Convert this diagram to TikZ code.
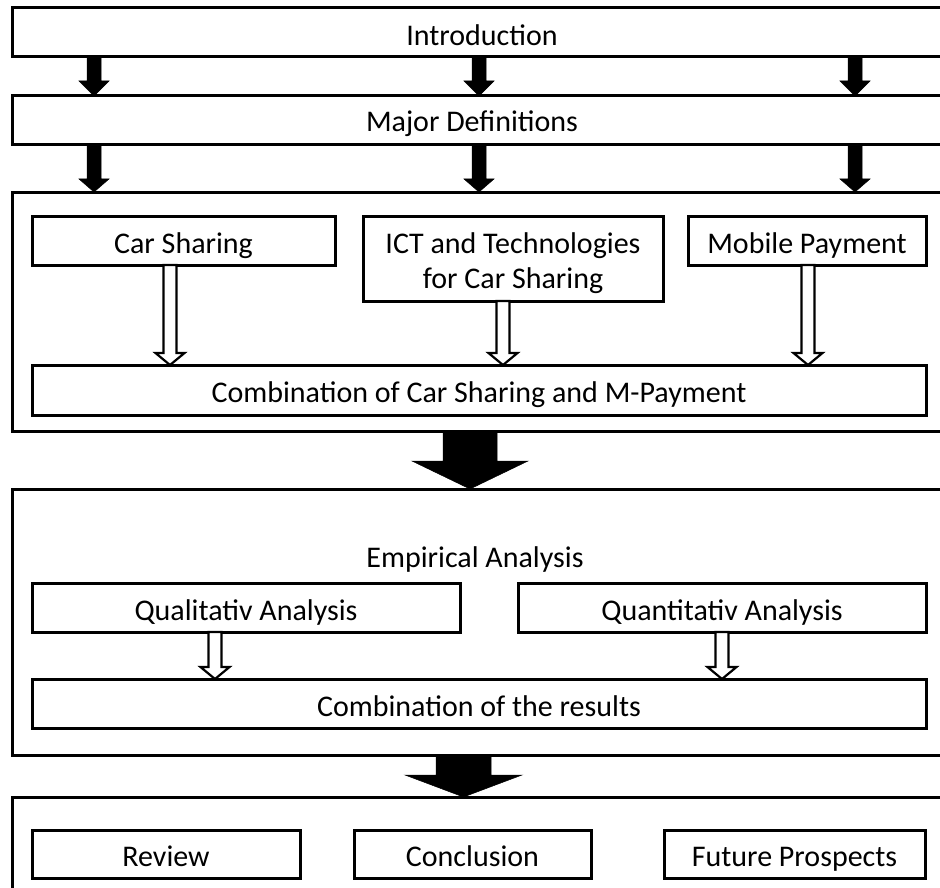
\documentclass[tikz,border=0pt]{standalone}
\usepackage{fontspec}
\setmainfont{Carlito}
\usetikzlibrary{calc}
\newcommand\blockarrow[7]{%
  \path[#1] let \p1=(#3.south), \p2=(#4.north) in
    (#2pt-#5pt,\y1) -- (#2pt-#5pt,\y2+#7pt) -- (#2pt-#6pt,\y2+#7pt) -- (#2pt,\y2)
    -- (#2pt+#6pt,\y2+#7pt) -- (#2pt+#5pt,\y2+#7pt) -- (#2pt+#5pt,\y1) -- cycle;}
\begin{document}
\begin{tikzpicture}[x=1pt,y=-1pt,
  box/.style={draw=black, line width=3pt, fill=white, inner sep=0pt, outer sep=0pt,
    font=\fontsize{30}{35}\selectfont, align=center},
  one/.style={text height=31pt, text depth=6pt},
  lbl/.style={inner sep=0pt, font=\fontsize{30}{35}\selectfont, one},
  solidarr/.style={fill=black, draw=black, line width=0.5pt, line join=miter},
  hollowarr/.style={fill=white, draw=black, line width=2.2pt, line join=miter}]
\useasboundingbox (0,0) rectangle (940,888);
\clip (0,0) rectangle (940,888);
% big frames
\node[box, minimum width=940pt, minimum height=49pt] (intro) at (482,32.5) {};
\node[box, minimum width=940pt, minimum height=49pt] (major) at (482,120.5) {};
\node[box, minimum width=940pt, minimum height=239pt] (big1) at (482,311.5) {};
\node[box, minimum width=940pt, minimum height=266pt] (big2) at (482,622) {};
\node[box, minimum width=940pt, minimum height=123pt] (big3) at (482,858.5) {};
% titles
\node[lbl] (introtxt) at (482,33) {Introduction};
\node[lbl] (majortxt) at (472,119) {Major Definitions};
\node[lbl] (emptxt) at (475,555) {Empirical Analysis};
% inner boxes
\node[box, one, minimum width=303pt, minimum height=49pt] (cs) at (183.5,240.5) {Car Sharing};
\node[box, minimum width=300pt, minimum height=85pt] (ict) at (513,258.5) {};
\node[inner sep=0pt, font=\fontsize{30}{35}\selectfont, align=center] (icttxt) at (513,263.5) {ICT and Technologies\\for Car Sharing};
\node[box, one, minimum width=238pt, minimum height=49pt] (mob) at (807,240.5) {Mobile Payment};
\node[box, one, minimum width=894pt, minimum height=50pt] (comb1) at (479,390) {Combination of Car Sharing and M-Payment};
\node[box, one, minimum width=428pt, minimum height=49pt] (qual) at (246,607.5) {Qualitativ Analysis};
\node[box, one, minimum width=408pt, minimum height=49pt] (quant) at (722,607.5) {Quantitativ Analysis};
\node[box, one, minimum width=894pt, minimum height=49pt] (comb2) at (479,703.5) {Combination of the results};
\node[box, one, minimum width=268pt, minimum height=48pt] (review) at (166,854) {Review};
\node[box, one, minimum width=237pt, minimum height=48pt] (concl) at (472.5,854) {Conclusion};
\node[box, one, minimum width=261pt, minimum height=48pt] (future) at (794.5,854) {Future Prospects};
% solid arrows
\blockarrow{solidarr}{94}{intro}{major}{7}{15}{15}
\blockarrow{solidarr}{479}{intro}{major}{7}{15}{15}
\blockarrow{solidarr}{855}{intro}{major}{7}{15}{15}
\blockarrow{solidarr}{94}{major}{big1}{7}{15}{13}
\blockarrow{solidarr}{479}{major}{big1}{7}{15}{13}
\blockarrow{solidarr}{855}{major}{big1}{7}{15}{13}
\blockarrow{solidarr}{470}{big1}{big2}{27}{58}{28}
\blockarrow{solidarr}{463.5}{big2}{big3}{27.5}{58.5}{22}
% hollow arrows
\blockarrow{hollowarr}{170}{cs}{comb1}{6.5}{14.5}{12}
\blockarrow{hollowarr}{503}{ict}{comb1}{6.5}{14.5}{12}
\blockarrow{hollowarr}{808}{mob}{comb1}{6.5}{14.5}{12}
\blockarrow{hollowarr}{215}{qual}{comb2}{6.5}{14.5}{12}
\blockarrow{hollowarr}{722}{quant}{comb2}{6.5}{14.5}{12}
\end{tikzpicture}
\end{document}
